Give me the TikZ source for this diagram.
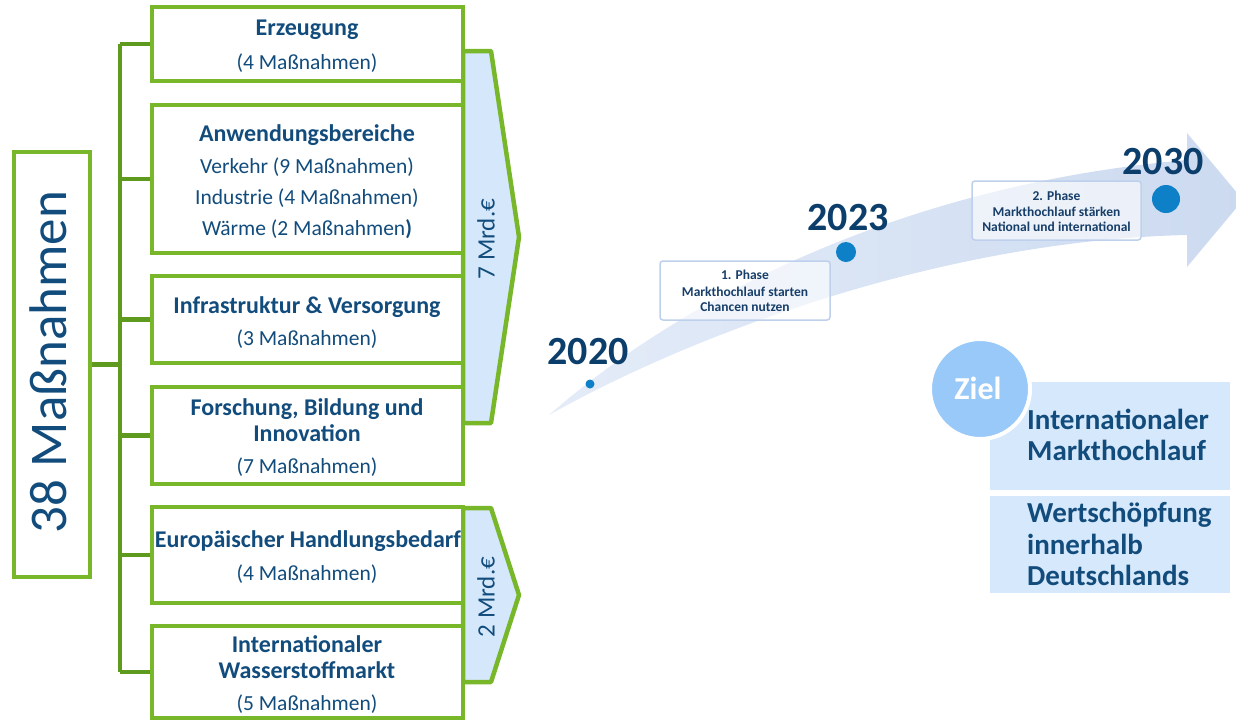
\documentclass[tikz,border=0pt]{standalone}
\usepackage{fontspec}
\setmainfont{Carlito}
\definecolor{gr}{RGB}{120,183,42}
\definecolor{dg}{RGB}{94,154,30}
\definecolor{afill}{RGB}{213,232,251}
\definecolor{tx}{RGB}{18,76,124}
\definecolor{yr}{RGB}{12,62,108}
\definecolor{bandL}{RGB}{228,236,248}
\definecolor{bandR}{RGB}{204,218,240}
\definecolor{dotc}{RGB}{13,128,200}
\definecolor{zielc}{RGB}{153,201,248}
\definecolor{zbox}{RGB}{214,232,251}
\definecolor{phb}{RGB}{190,208,236}
\definecolor{pht}{RGB}{22,62,105}
\begin{document}
\begin{tikzpicture}[x=1pt,y=-1pt,
  box/.style={draw=gr, line width=4.5pt, rectangle, inner sep=0pt, fill=white},
  conn/.style={draw=dg, line width=4.5pt},
  txt/.style={inner sep=0pt, text=tx, text height=0.65em, text depth=0.15em, yshift=-5pt},
  hd/.style={txt, font=\fontsize{24}{28}\selectfont\bfseries},
  rg/.style={txt, font=\fontsize{21.5}{25}\selectfont},
  mrd/.style={inner sep=0pt, text=tx, rotate=90, font=\fontsize{25}{29}\selectfont},
  arr/.style={draw=gr, line width=4.5pt, fill=afill, line join=round},
  year/.style={inner sep=0pt, text=yr, text height=0.65em, text depth=0pt, yshift=-9pt, font=\fontsize{40}{44}\selectfont\bfseries},
  ydot/.style={circle, fill=dotc, inner sep=0pt},
  phase/.style={draw=phb, line width=1.5pt, fill=white, fill opacity=0.6, text opacity=1, rounded corners=3pt, inner sep=0pt},
  pht/.style={inner sep=0pt, text=pht, text height=0.65em, text depth=0.15em, yshift=-3pt, font=\fontsize{13.5}{16}\selectfont\bfseries},
  zb/.style={fill=zbox, inner sep=0pt, rectangle},
  zt/.style={inner sep=0pt, text=tx, anchor=west, text height=0.65em, text depth=0.15em, yshift=-6pt, font=\fontsize{29}{33}\selectfont\bfseries}
]
\useasboundingbox (0,0) rectangle (1236,721);
\clip (0,0) rectangle (1236,721);

% ---------- curved timeline arrow ----------
\shade[left color=bandL, right color=bandR]
  (549,415) .. controls (680,300) and (900,185) .. (1187,160)
  -- (1187,133) -- (1243,200) -- (1187,267) -- (1187,235)
  .. controls (950,240) and (700,330) .. (549,415) -- cycle;

% ---------- funding arrows ----------
\draw[arr] (463,51) -- (491,51) -- (519,237) -- (491,423) -- (463,423) -- cycle;
\draw[arr] (463,508) -- (491,508) -- (519,595) -- (491,682) -- (463,682) -- cycle;
\node[mrd] (m7) at (486,239) {7 Mrd.€};
\node[mrd] (m2) at (486,597) {2 Mrd.€};

% ---------- boxes ----------
\node[box, minimum width=76pt, minimum height=425pt] (main) at (52,364.5) {};
\node[inner sep=0pt, text=tx, rotate=90, font=\fontsize{53}{60}\selectfont, text height=0.7em, text depth=0.15em] (mainT) at (64,362) {38 Maßnahmen};

\node[box, minimum width=311pt, minimum height=74pt]  (b1) at (307.5,44) {};
\node[box, minimum width=311pt, minimum height=148pt] (b2) at (307.5,179) {};
\node[box, minimum width=311pt, minimum height=87pt]  (b3) at (307.5,319.5) {};
\node[box, minimum width=311pt, minimum height=97pt]  (b4) at (307.5,435.5) {};
\node[box, minimum width=311pt, minimum height=96pt]  (b5) at (307.5,555) {};
\node[box, minimum width=311pt, minimum height=92pt]  (b6) at (307.5,672) {};

% ---------- connectors ----------
\coordinate (tx) at (120,0);
\draw[conn] (main.east) -- (main.east -| tx);
\draw[conn] (b1.west -| tx) -- (b6.west -| tx);
\foreach \b in {b1,b2,b3,b4,b5,b6} {
  \draw[conn] (\b.west -| tx) -- (\b.west);
}

% ---------- box texts ----------
\node[hd] (t1a) at (307,28) {Erzeugung};
\node[rg] (t1b) at (307,62) {(4 Maßnahmen)};
\node[hd] (t2a) at (307,134) {Anwendungsbereiche};
\node[rg] (t2b) at (307,166) {Verkehr (9 Maßnahmen)};
\node[rg] (t2c) at (307,197) {Industrie (4 Maßnahmen)};
\node[rg] (t2d) at (307,228) {Wärme (2 Maßnahmen\textbf{)}};
\node[hd] (t3a) at (307,306) {Infrastruktur \& Versorgung};
\node[rg] (t3b) at (307,338) {(3 Maßnahmen)};
\node[hd] (t4a) at (307,408) {Forschung, Bildung und};
\node[hd] (t4b) at (307,434) {Innovation};
\node[rg] (t4c) at (307,466) {(7 Maßnahmen)};
\node[hd] (t5a) at (308,540) {Europäischer Handlungsbedarf};
\node[rg] (t5b) at (307,573) {(4 Maßnahmen)};
\node[hd] (t6a) at (307,645) {Internationaler};
\node[hd] (t6b) at (307,671) {Wasserstoffmarkt};
\node[rg] (t6c) at (307,703) {(5 Maßnahmen)};

% ---------- timeline ----------
\node[year] (y20) at (588,352) {2020};
\node[year] (y23) at (848,218) {2023};
\node[year] (y30) at (1163,162) {2030};
\node[ydot, minimum size=9pt]  (d20) at (590,384) {};
\node[ydot, minimum size=20pt] (d23) at (846,252) {};
\node[ydot, minimum size=28pt] (d30) at (1166,199) {};

\node[phase, minimum width=170pt, minimum height=59pt] (p1) at (745,290.5) {};
\node[pht] (p1a) at (745,274) {1. Phase};
\node[pht] (p1b) at (745,291) {Markthochlauf starten};
\node[pht] (p1c) at (745,306) {Chancen nutzen};

\node[phase, minimum width=169pt, minimum height=59pt] (p2) at (1056.5,210.5) {};
\node[pht] (p2a) at (1056.5,195) {2. Phase};
\node[pht] (p2b) at (1056.5,211) {Markthochlauf stärken};
\node[pht] (p2c) at (1056.5,226) {National und international};

% ---------- Ziel ----------
\node[zb, minimum width=240pt, minimum height=108pt] (z1) at (1110,436) {};
\node[zb, minimum width=240pt, minimum height=97pt]  (z2) at (1110,544.5) {};
\node[circle, fill=zielc, draw=white, line width=4pt, minimum size=100pt, inner sep=0pt] (zc) at (980,389) {};
\node[inner sep=0pt, text=white, font=\fontsize{32}{36}\selectfont\bfseries, text height=0.65em, text depth=0.05em, yshift=-7pt] (zt) at (978,389) {Ziel};
\node[zt] (z1a) at (1027,421) {Internationaler};
\node[zt] (z1b) at (1027,452) {Markthochlauf};
\node[zt] (z2a) at (1027,514) {Wertschöpfung};
\node[zt] (z2b) at (1027,546) {innerhalb};
\node[zt] (z2c) at (1027,577) {Deutschlands};
\end{tikzpicture}
\end{document}
